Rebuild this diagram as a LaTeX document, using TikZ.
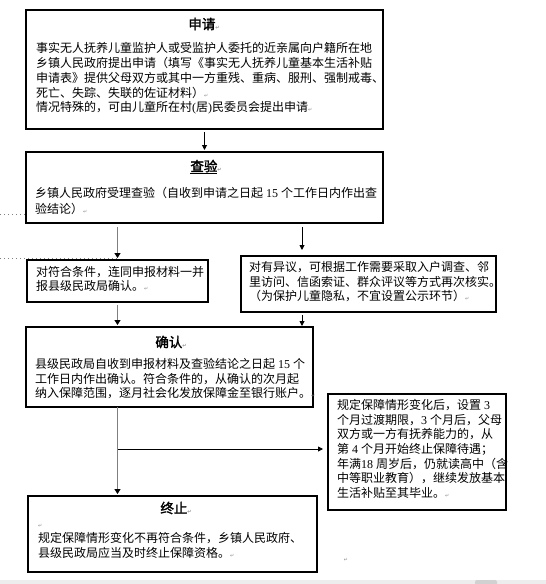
\documentclass[tikz,border=0pt]{standalone}
\usepackage{fontspec}
\setmainfont{Noto Sans CJK SC}[AutoFakeBold=2]
\newfontfamily\numf{Liberation Serif}
\newfontfamily\symf{DejaVu Sans}
\usetikzlibrary{arrows.meta}
\XeTeXlinebreaklocale "zh"
\XeTeXlinebreakskip=0pt plus 2pt minus 2pt
\newcommand\jl[2]{\makebox[#1pt][s]{\rule[-1.5pt]{0pt}{12pt}#2}}
\newcommand\nl[1]{\rule[-1.5pt]{0pt}{12pt}#1}
\newcommand\nm[1]{{\numf #1}}
\newcommand\gapsp{\hspace{3pt}}
\newcommand\pmark{{\symf\fontsize{5}{5}\selectfont\color{black!45}↵}}
\tikzset{
  box/.style={draw, line width=1.2pt, inner sep=0pt, outer sep=0pt, anchor=north west},
  body/.style={inner sep=0pt, anchor=west, align=left},
  ttl/.style={inner sep=0pt, font=\fontsize{13.5}{14}\selectfont\bfseries},
  thinarrow/.style={draw=black, line width=0.9pt, -{Triangle[length=5pt,width=5pt]}},
  grayarrow/.style={draw=black!50, line width=1.8pt, -{Triangle[length=5pt,width=6pt,color=black]}},
  dotline/.style={draw=black!50, line width=0.8pt, dash pattern=on 0.8pt off 3.2pt},
}
\begin{document}
\begin{tikzpicture}[x=1pt,y=-1pt]
\useasboundingbox (0,0) rectangle (546,584);
\fill[white] (0,0) rectangle (546,584);
\fill[black!7] (0,580) rectangle (546,584);
\fill[black!18, rounded corners=2pt] (475,580) rectangle (497,586);

% boxes
\node[box, minimum width=357pt, minimum height=119pt] (apply) at (26,10) {};
\node[box, minimum width=357pt, minimum height=71pt] (check) at (26,152) {};
\node[box, minimum width=181pt, minimum height=42pt] (left3) at (27,260) {};
\node[box, minimum width=255pt, minimum height=56pt] (right3) at (241,256) {};
\node[box, minimum width=287pt, minimum height=80pt] (confirm) at (26,327) {};
\node[box, minimum width=178pt, minimum height=116pt] (stay) at (328,394) {};
\node[box, minimum width=289pt, minimum height=76pt] (stop) at (28,496) {};

% titles
\node[ttl] (applyT) at (204,24) {申请\pmark};
\node[ttl] (checkT) at (206,167) {\underline{查验}\pmark};
\node[ttl] (confirmT) at (171,342) {确认\pmark};
\node[ttl] (stopT) at (176,508) {终止\pmark};

% bodies
\node[body, font=\fontsize{12}{14.75}\selectfont] (applyB) at (36,78.5) {%
\jl{340}{事实无人抚养儿童监护人或受监护人委托的近亲属向户籍所在地}\\
\jl{340}{乡镇人民政府提出申请（填写《事实无人抚养儿童基本生活补贴}\\
\jl{341}{申请表》提供父母双方或其中一方重残、重病、服刑、强制戒毒、}\\
\nl{死亡、失踪、失联的佐证材料）\pmark}\\
\nl{情况特殊的，可由儿童所在村\nm{(}居\nm{)}民委员会提出申请\pmark}};

\node[body, font=\fontsize{12}{16}\selectfont] (checkB) at (35,201) {%
\jl{339}{乡镇人民政府受理查验（自收到申请之日起\gapsp{}\nm{15}\gapsp{}个工作日内作出查}\\
\nl{验结论）\pmark}};

\node[body, font=\fontsize{12}{14.5}\selectfont] (left3B) at (36,279) {%
\jl{163}{对符合条件，连同申报材料一并}\\
\nl{报县级民政局确认。\pmark}};

\node[body, font=\fontsize{12}{14.5}\selectfont] (right3B) at (249,281.5) {%
\jl{238}{对有异议，可根据工作需要采取入户调查、邻}\\
\jl{239}{里访问、信函索证、群众评议等方式再次核实。}\\
\nl{（为保护儿童隐私，不宜设置公示环节）\pmark}};

\node[body, font=\fontsize{12}{14.5}\selectfont] (confirmB) at (35,378.5) {%
\jl{272}{县级民政局自收到申报材料及查验结论之日起\gapsp{}\nm{15}\gapsp{}个}\\
\jl{272}{工作日内作出确认。符合条件的，从确认的次月起}\\
\jl{273}{纳入保障范围，逐月社会化发放保障金至银行账户。\pmark}};

\node[body, font=\fontsize{12}{14.67}\selectfont] (stayB) at (337,449) {%
\jl{159}{规定保障情形变化后，设置\gapsp{}\nm{3}}\\
\jl{159}{个月过渡期限，\nm{3}\gapsp{}个月后，父母}\\
\jl{159}{双方或一方有抚养能力的，从}\\
\jl{159}{第\gapsp{}\nm{4}\gapsp{}个月开始终止保障待遇；}\\
\jl{159}{年满\nm{18}\gapsp{}周岁后，仍就读高中（含}\\
\jl{159}{中等职业教育），继续发放基本}\\
\nl{生活补贴至其毕业。\pmark}};

\node[body, font=\fontsize{12}{15}\selectfont] (stopB) at (38,538) {%
\nl{\pmark}\\
\nl{规定保障情形变化不再符合条件，乡镇人民政府、}\\
\nl{县级民政局应当及时终止保障资格。\pmark}};

\node[inner sep=0pt] (endmark) at (346,560) {\pmark};

% connectors
\coordinate (rx) at (302,0);
\draw[thinarrow, shorten <=3pt, shorten >=2pt] (apply.south) -- (check.north);
\draw[grayarrow, shorten <=4pt, shorten >=2pt] (check.south -| left3.north) -- (left3.north);
\draw[thinarrow, shorten <=4pt, shorten >=6pt] (check.south -| rx) -- (right3.north -| rx);
\draw[grayarrow, shorten <=3pt, shorten >=2pt] (left3.south) -- (left3.south |- confirm.north);
\draw[thinarrow, shorten <=3pt, shorten >=1pt] (right3.south -| rx) -- (confirm.north -| rx);
\draw[grayarrow, shorten >=2pt] (confirm.south -| left3.south) -- (stop.north -| left3.south);
\coordinate (br) at (118,449);
\draw[thinarrow, shorten >=5pt] (br) -- (br -| stay.west);

% dotted leaders
\coordinate (d1) at (0,214);
\draw[dotline] (d1) -- (d1 -| check.west);
\coordinate (d2) at (0,258);
\draw[dotline] (d2) -- (d2 -| left3.north);
\end{tikzpicture}
\end{document}
